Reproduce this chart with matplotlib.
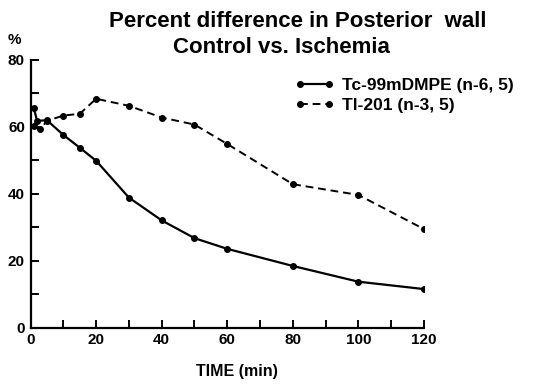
import matplotlib
matplotlib.use("Agg")
import matplotlib.pyplot as plt
from matplotlib.ticker import MultipleLocator

plt.rcParams['font.family'] = ['Liberation Sans', 'DejaVu Sans']
plt.rcParams['font.weight'] = 'bold'

# Data
tc_time = [1, 2, 5, 10, 15, 20, 30, 40, 50, 60, 80, 100, 120]
tc_pct = [65.6, 61.8, 62.0, 57.6, 53.8, 49.9, 38.9, 32.1, 26.8, 23.6, 18.5, 13.8, 11.6]
tl_time = [1, 3, 5, 10, 15, 20, 30, 40, 50, 60, 80, 100, 120]
tl_pct = [60.2, 59.4, 61.8, 63.4, 63.9, 68.4, 66.3, 62.8, 60.7, 54.9, 42.9, 39.7, 29.5]

x_ticks = [0, 20, 40, 60, 80, 100, 120]
y_ticks = [0, 20, 40, 60, 80]

fig = plt.figure(figsize=(5.36, 3.84), dpi=100)
ax = fig.add_axes([0.057, 0.146, 0.734, 0.698])

ax.plot(tc_time, tc_pct, color='black', lw=1.6, marker='o', ms=4,
        label='Tc-99mDMPE (n-6, 5)')
ax.plot(tl_time, tl_pct, color='black', lw=1.4, ls=(0, (4, 2.5)), marker='o', ms=4,
        label='Tl-201 (n-3, 5)')

ax.set_xlim(0, 120)
ax.set_ylim(0, 80)
ax.set_xticks(x_ticks)
ax.set_yticks(y_ticks)
ax.xaxis.set_minor_locator(MultipleLocator(10))
ax.yaxis.set_minor_locator(MultipleLocator(10))
ax.tick_params(which='both', direction='in', length=6, width=1.4, labelsize=11, pad=4)
for s in ['top', 'right']:
    ax.spines[s].set_visible(False)
for s in ['left', 'bottom']:
    ax.spines[s].set_linewidth(1.6)

ax.set_xlabel('TIME (min)', fontsize=11.5, fontweight='bold')
ax.xaxis.set_label_coords(0.525, -0.135)
fig.text(0.026, 0.895, '%', fontsize=11, fontweight='bold', ha='center', va='center')

fig.text(0.555, 0.945, 'Percent difference in Posterior  wall', fontsize=16,
         fontweight='bold', ha='center', va='center')
fig.text(0.525, 0.876, 'Control vs. Ischemia', fontsize=16,
         fontweight='bold', ha='center', va='center')

ax.legend(loc='upper left', bbox_to_anchor=(0.533, 0.82), bbox_transform=fig.transFigure,
          frameon=False, numpoints=2, handlelength=2.3, handletextpad=0.45,
          labelspacing=0.3, fontsize=12.5, borderpad=0)

fig.savefig('out.png', dpi=100)
